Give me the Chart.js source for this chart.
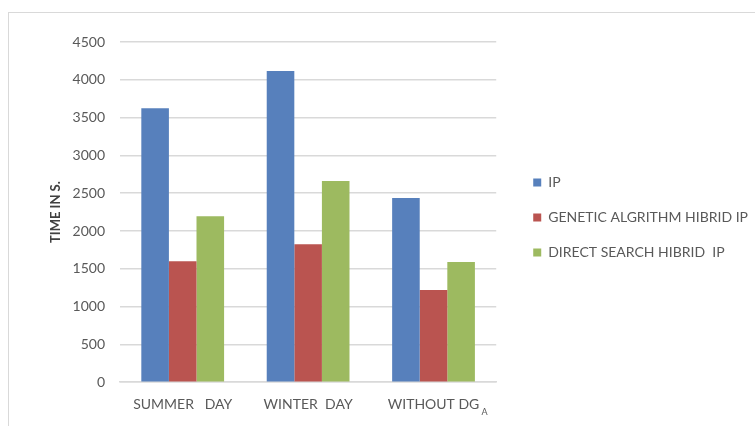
<!DOCTYPE html>
<html>
<head>
<meta charset="utf-8">
<script src="https://cdn.jsdelivr.net/npm/chart.js@4.4.1/dist/chart.umd.min.js"></script>
<style>
    html, body { margin: 0; padding: 0; background: #fff; }
    #marco {
        position: absolute; left: 8px; top: 12px; width: 800px; height: 500px;
        border: 1px solid #d9d9d9; box-sizing: border-box;
    }
    #lienzo { position: absolute; left: 0; top: 0; width: 755px; height: 426px; }
</style>
</head>
<body>
<div id="marco"></div>
<div id="lienzo"><canvas id="myChart" width="755" height="426"></canvas></div>
<script>
// Datos
const categorias = ['SUMMER   DAY', 'WINTER  DAY', 'WITHOUT DG'];
const serieIP = [3625, 4115, 2435];
const serieGenetico = [1600, 1825, 1220];
const serieDirecta = [2195, 2660, 1590];
const nombresSeries = ['IP', 'GENETIC ALGRITHM HIBRID IP', 'DIRECT SEARCH HIBRID  IP'];
const ejeY = { min: 0, max: 4500, paso: 500 };

const fuente = "Lato, 'Liberation Sans', sans-serif";
const gris = '#595959';

// Subíndice "A" junto a la última categoría
const subindice = {
    id: 'subindice',
    afterDraw(chart) {
        const x = chart.scales.x;
        const ctx = chart.ctx;
        const centro = x.getPixelForTick(2);
        ctx.save();
        ctx.font = '9px ' + fuente;
        ctx.fillStyle = gris;
        ctx.textBaseline = 'middle';
        ctx.fillText('A', centro + 48, x.top + 30);
        ctx.restore();
    }
};

// Ejes vacíos que solo sirven de separación
const espaciador = (eje, posicion, medida) => ({
    type: 'linear', axis: eje, position: posicion, display: true,
    grid: { display: false }, border: { display: false }, ticks: { display: false },
    afterFit: (s) => {
        if (eje === 'x') s.height = medida; else s.width = medida;
    }
});

const ctx = document.getElementById('myChart').getContext('2d');
const myChart = new Chart(ctx, {
    type: 'bar',
    data: {
        labels: categorias,
        datasets: [
            { label: nombresSeries[0], data: serieIP, backgroundColor: '#5780bc' },
            { label: nombresSeries[1], data: serieGenetico, backgroundColor: '#ba5450' },
            { label: nombresSeries[2], data: serieDirecta, backgroundColor: '#9dba60' }
        ]
    },
    options: {
        responsive: false,
        animation: false,
        layout: { padding: { left: 44, top: 16, right: -3, bottom: 7 } },
        datasets: { bar: { categoryPercentage: 0.66, barPercentage: 1 } },
        plugins: {
            legend: {
                position: 'right',
                maxWidth: 320,
                labels: {
                    boxWidth: 8, boxHeight: 8, padding: 21,
                    color: gris,
                    font: { family: fuente, size: 14 }
                }
            },
            tooltip: { enabled: false }
        },
        scales: {
            x: {
                grid: { display: false },
                border: { color: '#d9d9d9', width: 1.5 },
                ticks: { color: gris, padding: 6, font: { family: fuente, size: 14 } }
            },
            y: {
                min: ejeY.min, max: ejeY.max,
                afterFit: (s) => { s.width = 76; },
                ticks: {
                    stepSize: ejeY.paso, color: gris, padding: 15,
                    font: { family: fuente, size: 14 },
                    callback: (v) => String(v)
                },
                grid: { color: '#d9d9d9', lineWidth: 1.5, drawTicks: false },
                border: { display: false },
                title: {
                    display: true, text: 'TIME IN S.', color: '#404040',
                    font: { family: fuente, size: 13, weight: 'bold' }
                }
            },
            arriba: espaciador('x', 'top', 26),
            derecha: espaciador('y', 'right', 16)
        }
    },
    plugins: [subindice]
});
</script>
</body>
</html>
